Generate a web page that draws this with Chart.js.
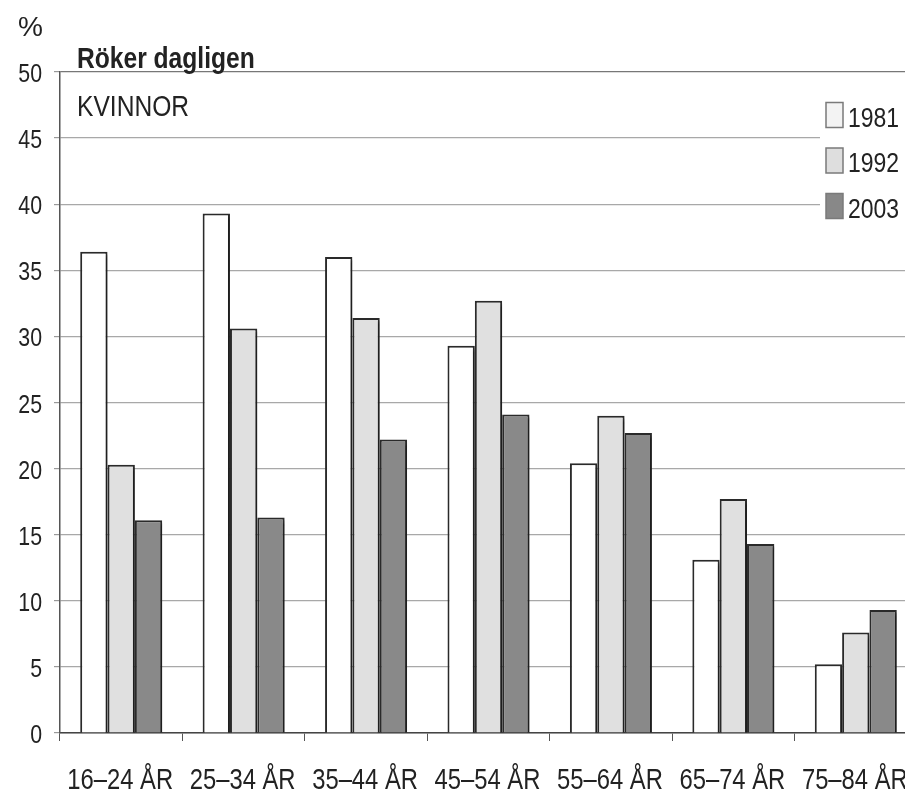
<!DOCTYPE html>
<html>
<head>
<meta charset="utf-8">
<script src="https://cdn.jsdelivr.net/npm/chart.js@4.4.1/dist/chart.umd.min.js"></script>
<style>
  html, body { margin: 0; padding: 0; background: #fff; overflow: hidden; width: 905px; height: 792px; }
  #wrap { position: relative; width: 917px; height: 792px; }
  canvas { position: absolute; left: 0; top: 0; width: 917px; height: 792px; }
</style>
</head>
<body>
<div id="wrap"><canvas id="c" width="917" height="792"></canvas></div>
<script>
// Daily smokers, women, by age group (%)
const categories = ['16–24 ÅR', '25–34 ÅR', '35–44 ÅR', '45–54 ÅR', '55–64 ÅR', '65–74 ÅR', '75–84 ÅR'];
const years = ['1981', '1992', '2003'];
const v1981 = [36.4, 39.3, 36.0, 29.3, 20.4, 13.1, 5.2];
const v1992 = [20.3, 30.6, 31.4, 32.7, 24.0, 17.7, 7.6];
const v2003 = [16.1, 16.3, 22.2, 24.1, 22.7, 14.3, 9.3];
const yTicks = [0, 5, 10, 15, 20, 25, 30, 35, 40, 45, 50];

const title = 'Röker dagligen';
const subtitle = 'KVINNOR';
const unit = '%';

const SANS = '"Liberation Sans", Arial, sans-serif';
const NARROW = 0.82;            // horizontal squeeze giving a narrow face
const barFills = ['#ffffff', '#e0e0e0', '#898989'];
const keyFills = ['#f3f3f3', '#dedede', '#888888'];
const ink = '#222222';

// draw text squeezed horizontally, anchored at (x, y)
function narrowText(ctx, text, x, y, font, align) {
  ctx.save();
  ctx.font = font;
  ctx.textAlign = align || 'left';
  ctx.textBaseline = 'alphabetic';
  ctx.translate(x, y);
  ctx.scale(NARROW, 1);
  ctx.fillText(text, 0, 0);
  ctx.restore();
}

// soft drop shadow to the lower right of every bar
const barShadow = {
  id: 'barShadow',
  beforeDatasetsDraw(chart) {
    const ctx = chart.ctx;
    ctx.save();
    ctx.shadowColor = 'rgba(0,0,0,0.28)';
    ctx.shadowOffsetX = 3;
    ctx.shadowOffsetY = 3;
    ctx.shadowBlur = 2;
  },
  afterDatasetsDraw(chart) {
    chart.ctx.restore();
  }
};

// axis labels in the narrow face, heading texts and the key
const decorations = {
  id: 'decorations',
  afterDraw(chart) {
    const ctx = chart.ctx;
    const xs = chart.scales.x, ys = chart.scales.y;
    ctx.save();
    ctx.fillStyle = ink;

    ys.ticks.forEach((t, i) => {
      narrowText(ctx, String(t.value), 42, ys.getPixelForTick(i) + 10, '26px ' + SANS, 'right');
    });
    xs.ticks.forEach((t, i) => {
      narrowText(ctx, categories[t.value], xs.getPixelForTick(i) - 1, 789, '29px ' + SANS, 'center');
    });

    ctx.font = '28px ' + SANS;
    ctx.textBaseline = 'alphabetic';
    ctx.fillText(unit, 18, 36);
    narrowText(ctx, title, 77, 68, 'bold 30px ' + SANS);
    narrowText(ctx, subtitle, 77, 116, '30px ' + SANS);

    ctx.fillStyle = '#ffffff';
    ctx.fillRect(820, 94, 100, 134);
    chart.data.datasets.forEach((ds, i) => {
      const cy = 115 + i * 45.5;
      ctx.fillStyle = keyFills[i];
      ctx.fillRect(826, cy - 12.5, 17, 25);
      ctx.strokeStyle = '#7a7a7a';
      ctx.lineWidth = 1.5;
      ctx.strokeRect(826, cy - 12.5, 17, 25);
      ctx.fillStyle = ink;
      narrowText(ctx, ds.label, 848, cy + 11.5, '28px ' + SANS);
    });
    ctx.restore();
  }
};

const series = [v1981, v1992, v2003];
new Chart(document.getElementById('c'), {
  type: 'bar',
  data: {
    labels: categories,
    datasets: years.map((y, i) => ({
      label: y,
      data: series[i],
      backgroundColor: barFills[i],
      borderColor: '#2a2a2a',
      borderWidth: 2,
      borderSkipped: 'start',
      categoryPercentage: 0.67,
      barPercentage: 1.0
    }))
  },
  options: {
    responsive: false,
    maintainAspectRatio: false,
    animation: false,
    devicePixelRatio: 1,
    layout: { padding: { top: 72, left: 0, right: 0, bottom: 0 } },
    plugins: { legend: { display: false }, tooltip: { enabled: false } },
    scales: {
      x: {
        afterFit(s) { s.height = 59; },
        grid: { display: true, drawOnChartArea: false, drawTicks: true, tickLength: 8, color: '#555', offset: true },
        border: { display: true, color: '#444', width: 1.5 },
        ticks: { display: false, autoSkip: false, maxRotation: 0 }
      },
      y: {
        min: 0,
        max: 50,
        afterFit(s) { s.width = 60; },
        afterBuildTicks(s) { s.ticks = yTicks.map(v => ({ value: v })); },
        grid: {
          color: ctx => (ctx.tick && ctx.tick.value === 50) ? '#777' : '#a8a8a8',
          lineWidth: 1.2,
          tickLength: 6,
          tickColor: '#999'
        },
        border: { display: true, color: '#555', width: 1.5 },
        ticks: { display: false }
      }
    }
  },
  plugins: [barShadow, decorations]
});
</script>
</body>
</html>
